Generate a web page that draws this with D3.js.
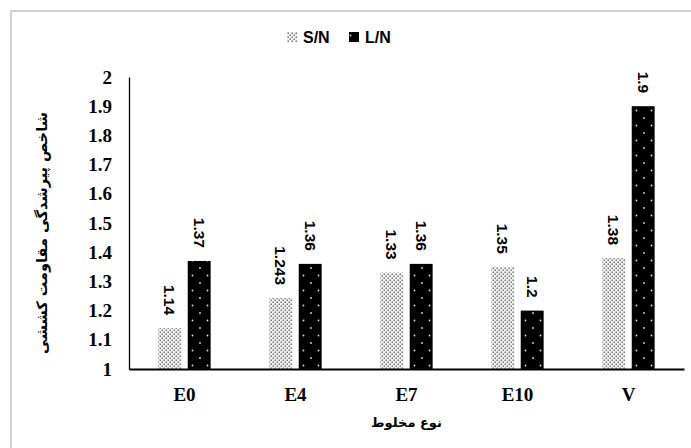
<!DOCTYPE html>
<html>
<head>
<meta charset="utf-8">
<script src="https://cdn.jsdelivr.net/npm/d3@7"></script>
<style>
  body { margin: 0; background: #fff; }
</style>
</head>
<body>
<svg id="chart"></svg>
<script>
const width = 691, height = 448

const categories = ["E0", "E4", "E7", "E10", "V"]
const seriesNames = ["S/N", "L/N"]
const snValues = [1.14, 1.243, 1.33, 1.35, 1.38]
const lnValues = [1.37, 1.36, 1.36, 1.2, 1.9]
const yTicks = [1, 1.1, 1.2, 1.3, 1.4, 1.5, 1.6, 1.7, 1.8, 1.9, 2]

const svg = d3.select("#chart")
    .attr("width", width)
    .attr("height", height)

// patterns for the two series
const defs = svg.append("defs")
let pLight = defs.append("pattern")
    .attr("id", "pat-light")
    .attr("patternUnits", "userSpaceOnUse")
    .attr("width", 4).attr("height", 4)
pLight.append("rect").attr("width", 4).attr("height", 4).attr("fill", "#f2f2f2")
pLight.append("rect").attr("x", 0.5).attr("y", 0.5).attr("width", 1.5).attr("height", 1.5).attr("fill", "#777")
pLight.append("rect").attr("x", 2.5).attr("y", 2.5).attr("width", 1.5).attr("height", 1.5).attr("fill", "#777")

let pDark = defs.append("pattern")
    .attr("id", "pat-dark")
    .attr("patternUnits", "userSpaceOnUse")
    .attr("width", 15).attr("height", 15)
pDark.append("rect").attr("width", 15).attr("height", 15).attr("fill", "#000")
pDark.append("circle").attr("cx", 3.5).attr("cy", 3.5).attr("r", 0.9).attr("fill", "#ddd")
pDark.append("circle").attr("cx", 11).attr("cy", 11).attr("r", 0.9).attr("fill", "#ddd")

// outer frame (runs off the right and bottom edges)
svg.append("path")
    .attr("d", "M11,460 L11,11 L700,11")
    .attr("fill", "none")
    .attr("stroke", "#d0d0d0")
    .attr("stroke-width", 2)

const margin = { left: 129, right: 7, top: 77, bottom: 79 }
const plotW = width - margin.left - margin.right
const plotH = height - margin.top - margin.bottom

const g = svg.append("g").attr("transform", `translate(${margin.left},${margin.top})`)

const x = d3.scaleBand().domain(categories).range([0, plotW])
const xInner = d3.scaleBand().domain(seriesNames).range([0, x.bandwidth()])
    .paddingInner(0.22).paddingOuter(1.0)
const y = d3.scaleLinear().domain([1, 2]).range([plotH, 0])

const fills = { "S/N": "url(#pat-light)", "L/N": "url(#pat-dark)" }
const rows = categories.map((c, i) => ({ cat: c, vals: [
    { s: "S/N", v: snValues[i] }, { s: "L/N", v: lnValues[i] }] }))

const grp = g.selectAll("g.cat").data(rows).enter().append("g")
    .attr("transform", d => `translate(${x(d.cat)},0)`)

grp.selectAll("rect").data(d => d.vals).enter().append("rect")
    .attr("x", d => xInner(d.s))
    .attr("y", d => y(d.v))
    .attr("width", xInner.bandwidth())
    .attr("height", d => y(1) - y(d.v))
    .attr("fill", d => fills[d.s])

// value labels, rotated 90deg
grp.selectAll("text.val").data(d => d.vals).enter().append("text")
    .attr("class", "val")
    .attr("transform", d => `translate(${xInner(d.s) + xInner.bandwidth() / 2},${y(d.v) - 13}) rotate(90)`)
    .attr("text-anchor", "end")
    .attr("dy", "0.35em")
    .style("font-family", "'Liberation Sans', Arial, sans-serif")
    .style("font-weight", "bold")
    .style("font-size", "15.5px")
    .text(d => d.v)

// y axis
const yAxis = g.append("g")
    .call(d3.axisLeft(y).tickValues(yTicks).tickSize(0).tickPadding(17).tickFormat(d => d))
yAxis.select(".domain").attr("stroke", "#000").attr("stroke-width", 1.3)
yAxis.selectAll("text")
    .style("font-family", "'Liberation Serif', 'Times New Roman', serif")
    .style("font-weight", "bold")
    .style("font-size", "19px")

// x axis
const xAxis = g.append("g")
    .attr("transform", `translate(0,${plotH})`)
    .call(d3.axisBottom(x).tickSize(0).tickPadding(19))
xAxis.select(".domain").attr("stroke", "#000").attr("stroke-width", 2)
xAxis.selectAll("text")
    .style("font-family", "'Liberation Serif', 'Times New Roman', serif")
    .style("font-weight", "bold")
    .style("font-size", "19px")

// axis titles
svg.append("text")
    .attr("transform", `translate(42,${margin.top + plotH / 2 + 10}) rotate(-90)`)
    .attr("text-anchor", "middle")
    .attr("dy", "0.35em")
    .attr("direction", "rtl")
    .style("font-family", "'DejaVu Sans', 'Noto Sans', sans-serif")
    .style("font-weight", "bold")
    .style("font-size", "14.5px")
    .text("شاخص پیرشدگی مقاومت کششی")

svg.append("text")
    .attr("x", margin.left + plotW / 2)
    .attr("y", 427)
    .attr("text-anchor", "middle")
    .attr("direction", "rtl")
    .style("font-family", "'DejaVu Sans', 'Noto Sans', sans-serif")
    .style("font-weight", "bold")
    .style("font-size", "13px")
    .text("نوع مخلوط")

// legend
const legend = svg.append("g").attr("transform", "translate(287,32)")
const legX = [0, 62]
seriesNames.forEach((s, i) => {
    legend.append("rect")
        .attr("x", legX[i]).attr("y", 0)
        .attr("width", 10).attr("height", 10)
        .attr("fill", fills[s])
    legend.append("text")
        .attr("x", legX[i] + 16).attr("y", 5)
        .attr("dy", "0.36em")
        .style("font-family", "'Liberation Sans', Arial, sans-serif")
        .style("font-weight", "bold")
        .style("font-size", "16px")
        .text(s)
})
</script>
</body>
</html>
